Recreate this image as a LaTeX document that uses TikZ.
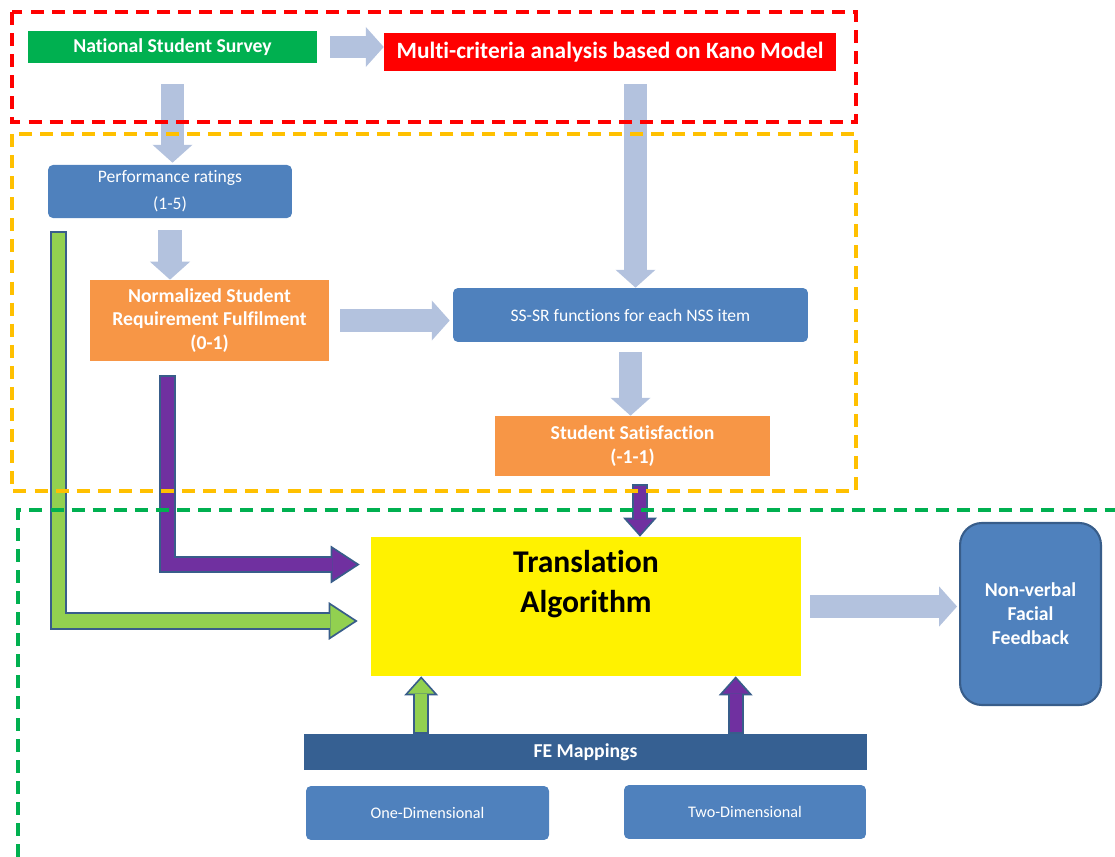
\documentclass[tikz,border=0pt]{standalone}
\usepackage{fontspec}
\setmainfont{Carlito}[Ligatures=NoCommon]
\usetikzlibrary{arrows.meta,calc}
\definecolor{nssgreen}{RGB}{0,176,80}
\definecolor{boxblue}{RGB}{79,129,189}
\definecolor{orng}{RGB}{247,150,70}
\definecolor{fedark}{RGB}{54,96,146}
\definecolor{lblue}{RGB}{179,194,222}
\definecolor{outl}{RGB}{56,93,138}
\definecolor{lgreen}{RGB}{146,208,80}
\definecolor{purp}{RGB}{112,48,160}
\definecolor{frameorange}{RGB}{255,192,0}

\begin{document}
\begin{tikzpicture}[x=0.02cm,y=-0.02cm,
    box/.style={inner sep=0pt, align=center, text=white},
    bold/.style={font=\fontsize{11.2}{13.6}\selectfont\bfseries},
    plain/.style={font=\fontsize{10}{15.4}\selectfont},
    fat/.style={draw=lblue, line width=13.1pt, -{Triangle[length=10.2pt,width=22.8pt,line width=0pt]}},
    bigarr/.style={draw=outl, line width=9.7pt, -{Triangle[length=16.5pt,width=21.6pt,line width=0pt]},
      postaction={draw=#1, line width=7.6pt, shorten >=1.9pt, shorten <=1pt, -{Triangle[length=13.7pt,width=17.9pt,line width=0pt]}}},
    smallarr/.style={draw=outl, line width=9.1pt, -{Triangle[length=10.8pt,width=19.3pt,line width=0pt]},
      postaction={draw=#1, line width=7pt, shorten >=1.5pt, shorten <=1pt, -{Triangle[length=8.3pt,width=14.8pt,line width=0pt]}}},
    frame/.style={line width=2pt, dash pattern=on 7.4pt off 4.6pt}]
    \useasboundingbox (0,0) rectangle (1115,857);

    % boxes
    \node[box, bold, fill=nssgreen, minimum width=164.4pt, minimum height=18.2pt] (nss) at (172.5,47) {National Student Survey};
    \node[box, font=\fontsize{13.3}{16}\selectfont\bfseries, fill=red, minimum width=257.2pt, minimum height=21.6pt] (kano) at (610,52) {Multi-criteria analysis based on Kano Model};
    \node[box, plain, fill=boxblue, rounded corners=2.8pt, minimum width=138.8pt, minimum height=30.2pt] (perf) at (170,191.5) {Performance ratings\\(1-5)};
    \node[box, bold, fill=orng, minimum width=136pt, minimum height=46.1pt] (norm) at (209.5,320.5) {Normalized Student\\Requirement Fulfilment\\(0-1)};
    \node[box, plain, fill=boxblue, rounded corners=2.8pt, minimum width=202pt, minimum height=30.7pt] (ssr) at (630.5,315) {SS-SR functions for each NSS item};
    \node[box, bold, fill=orng, minimum width=156.5pt, minimum height=34.1pt] (sat) at (632.5,446) {Student Satisfaction\\(-1-1)};
    \node[fill=yellow, inner sep=0pt, minimum width=244.7pt, minimum height=79.1pt] (trans) at (586,606.5) {};
    \node[align=center, font=\fontsize{18}{22.8}\selectfont\bfseries] (transtxt) at ($(trans.center)+(0,-22)$) {Translation\\Algorithm};
    \node[box, bold, fill=boxblue, draw=outl, line width=1.2pt, rounded corners=12.5pt, minimum width=80.2pt, minimum height=103.6pt] (nvf) at (1030.5,614) {Non-verbal\\Facial\\Feedback};
    \node[box, bold, fill=fedark, minimum width=320.4pt, minimum height=20.5pt] (fe) at (585.5,752) {FE Mappings};
    \node[box, font=\fontsize{9.2}{11}\selectfont, fill=boxblue, rounded corners=2.8pt, minimum width=138.3pt, minimum height=30.7pt] (one) at (427.5,813) {One-Dimensional};
    \node[box, font=\fontsize{9.2}{11}\selectfont, fill=boxblue, rounded corners=2.8pt, minimum width=137.7pt, minimum height=30.7pt] (two) at (745,812) {Two-Dimensional};

    % block arrows
    \draw[fat, line width=12pt, shorten <=7.4pt] (nss.east) -- (nss.east -| kano.west);
    \draw[fat, shorten <=11.9pt, shorten >=1.1pt] (nss.south) -- (nss.south |- perf.north);
    \coordinate (k1) at ($(kano.south)+(25.5,0)$);
    \draw[fat, shorten <=7.4pt] (k1) -- (k1 |- ssr.north);
    \draw[fat, shorten <=6.8pt] (perf.south) -- (perf.south |- norm.north);
    \draw[fat, shorten <=6.3pt, shorten >=1.7pt] (norm.east) -- (norm.east -| ssr.west);
    \draw[fat, shorten <=5.7pt] (ssr.south) -- (ssr.south |- sat.north);
    \draw[fat, shorten <=5.1pt, shorten >=1.1pt] (trans.east) -- (trans.east -| nvf.west);

    \coordinate (g1) at ($(perf.south west)+(10.5,13)$);
    \draw[bigarr=lgreen] (g1) |- ($(trans.west)+(-13,14.5)$);
    \coordinate (p1) at ($(norm.south)+(-42,14)$);
    \draw[bigarr=purp] (p1) |- ($(trans.west)+(-11,-42)$);
    \coordinate (p2) at ($(sat.south)+(7.5,8)$);
    \draw[smallarr=purp] (p2) -- (p2 |- trans.north);
    \coordinate (g2) at ($(fe.north west)+(117.5,0)$);
    \draw[smallarr=lgreen] (g2) -- (g2 |- trans.south);
    \coordinate (p3) at ($(fe.north west)+(432,0)$);
    \draw[smallarr=purp] (p3) -- (p3 |- trans.south);

    % dashed frames
    \draw[frame, draw=red] (12,12) rectangle (856,122);
    \draw[frame, draw=frameorange] (12,134) rectangle (856,491);
    \draw[frame, draw=nssgreen] (18,857) -- (18,510) -- (1115,510);
\end{tikzpicture}
\end{document}
